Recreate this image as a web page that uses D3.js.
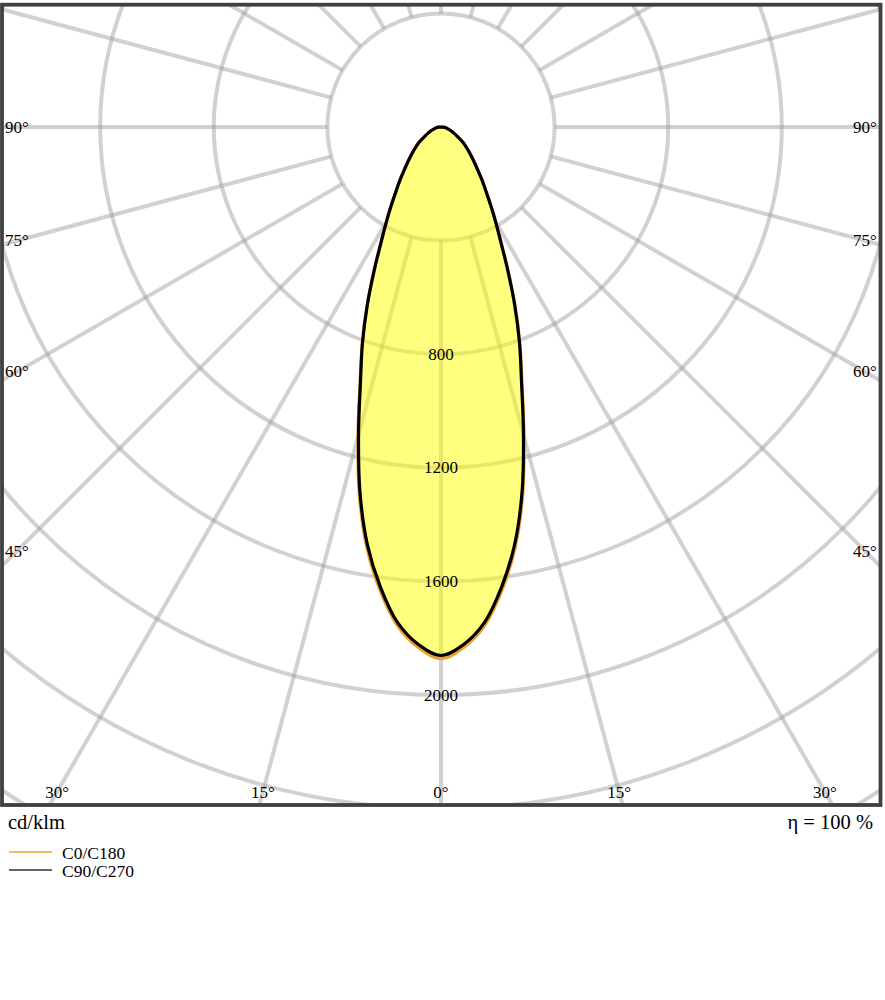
<!DOCTYPE html>
<html>
<head>
<meta charset="utf-8">
<script src="https://cdn.jsdelivr.net/npm/d3@7"></script>
<style>
  html, body { margin: 0; padding: 0; background: #fff; }
  svg { display: block; }
  text { font-family: "Liberation Serif", "Times New Roman", serif; fill: #000; }
</style>
</head>
<body>
<svg id="chart" width="885" height="1000"></svg>
<script>
// ---- data ----
const gammaAngles = [0, 2.5, 5, 7.5, 10, 12.5, 15, 17.5, 20, 22.5, 25, 27.5, 30, 32.5, 35, 37.5, 40, 42.5, 45, 47.5, 50, 55, 60, 65, 70, 75, 80, 85, 90];
const c0c180 = [1872, 1834, 1762, 1645, 1504, 1328, 1130, 949, 812, 681, 558, 457, 385, 325, 276, 239, 205, 179, 157, 138, 122, 95, 67, 49, 36, 25, 17, 8, 0];
const c90c270 = [1861, 1824, 1752, 1634, 1493, 1318, 1122, 943, 808, 678, 556, 456, 384, 324, 276, 239, 205, 179, 157, 138, 122, 95, 67, 49, 36, 25, 17, 8, 0];
const ringValues = [400, 800, 1200, 1600, 2000, 2400, 2800, 3200];
const ringLabels = [800, 1200, 1600, 2000];
const spokeAngles = d3.range(0, 360, 15);
const angleLabels = [0, 15, 30, 45, 60, 75, 90];
const legendNames = ["C0/C180", "C90/C270"];
const unitLabel = "cd/klm";
const efficiencyLabel = "η = 100 %";

// ---- layout ----
const frame = { x0: 2, y0: 4.7, x1: 880.5, y1: 805 };
const cx = 441, cy = 127;
const r = d3.scaleLinear().domain([0, 2000]).range([0, 568]);
const labelInset = { x0: 17, x1: 865, y1: 792 };

const svg = d3.select("#chart");
const defs = svg.append("defs");
defs.append("clipPath").attr("id", "clip")
  .append("rect")
  .attr("x", frame.x0).attr("y", frame.y0)
  .attr("width", frame.x1 - frame.x0).attr("height", frame.y1 - frame.y0);

const plot = svg.append("g").attr("clip-path", "url(#clip)");
const g = plot.append("g").attr("transform", `translate(${cx},${cy})`);

// grid rings
const gridColor = "#999";
g.selectAll("circle.ring").data(ringValues).enter().append("circle")
  .attr("class", "ring")
  .attr("r", d => r(d))
  .attr("fill", "none")
  .attr("stroke", gridColor)
  .attr("stroke-opacity", 0.45)
  .attr("stroke-width", 4);

// spokes (start at the first ring)
const rad = d => d * Math.PI / 180;
g.selectAll("line.spoke").data(spokeAngles).enter().append("line")
  .attr("class", "spoke")
  .attr("x1", d => r(ringValues[0]) * Math.sin(rad(d)))
  .attr("y1", d => r(ringValues[0]) * Math.cos(rad(d)))
  .attr("x2", d => r(4000) * Math.sin(rad(d)))
  .attr("y2", d => r(4000) * Math.cos(rad(d)))
  .attr("stroke", gridColor)
  .attr("stroke-opacity", 0.45)
  .attr("stroke-width", 4);

// closed curve: left side from the tip down to 0°, then right side back up to the tip
function curvePoints(vals) {
  const pts = [];
  for (let i = gammaAngles.length - 1; i >= 0; i--) {
    pts.push([Math.PI + rad(gammaAngles[i]), r(vals[i])]);
  }
  for (let i = 1; i < gammaAngles.length; i++) {
    pts.push([Math.PI - rad(gammaAngles[i]), r(vals[i])]);
  }
  return pts;
}
const radial = d3.lineRadial()
  .angle(d => d[0]).radius(d => d[1])
  .curve(d3.curveCatmullRom.alpha(0.5));

const pathC0 = radial(curvePoints(c0c180)) + "Z";
const pathC90 = radial(curvePoints(c90c270)) + "Z";

g.append("path").attr("d", pathC0)
  .attr("fill", "#ffff00").attr("fill-opacity", 0.5).attr("stroke", "none");
g.append("path").attr("d", pathC0)
  .attr("fill", "none").attr("stroke", "#f0a030").attr("stroke-width", 3.2)
  .attr("stroke-linejoin", "round");
g.append("path").attr("d", pathC90)
  .attr("fill", "none").attr("stroke", "#000").attr("stroke-width", 3.2)
  .attr("stroke-linejoin", "round");

// ring labels
g.selectAll("text.ringlabel").data(ringLabels).enter().append("text")
  .attr("class", "ringlabel")
  .attr("x", 0).attr("y", d => r(d))
  .attr("dy", "0.33em")
  .attr("text-anchor", "middle")
  .attr("font-size", 17)
  .text(d => d);

// angle labels, placed where each ray meets an inset rectangle
const angleLabelData = [];
angleLabels.forEach(a => {
  const sides = a === 0 ? [1] : [-1, 1];
  sides.forEach(s => {
    const dx = Math.sin(rad(a)), dy = Math.cos(rad(a));
    let t = Infinity;
    if (dy > 1e-9) t = Math.min(t, (labelInset.y1 - cy) / dy);
    if (dx > 1e-9) t = Math.min(t, (s > 0 ? (labelInset.x1 - cx) : (cx - labelInset.x0)) / dx);
    angleLabelData.push({ a, x: cx + s * t * dx, y: cy + t * dy });
  });
});
svg.selectAll("text.anglelabel").data(angleLabelData).enter().append("text")
  .attr("class", "anglelabel")
  .attr("x", d => d.x).attr("y", d => d.y)
  .attr("dy", "0.33em")
  .attr("text-anchor", "middle")
  .attr("font-size", 17)
  .text(d => d.a + "°");

// frame
svg.append("rect")
  .attr("x", frame.x0).attr("y", frame.y0)
  .attr("width", frame.x1 - frame.x0).attr("height", frame.y1 - frame.y0)
  .attr("fill", "none").attr("stroke", "#404040").attr("stroke-width", 3.8);

// footer texts
svg.append("text").attr("x", 8).attr("y", 829).attr("font-size", 20.5).text(unitLabel);
svg.append("text").attr("x", 873).attr("y", 829).attr("text-anchor", "end")
  .attr("font-size", 20.5).text(efficiencyLabel);

// legend
const legendColors = ["#f0a030", "#666"];
const legend = svg.append("g");
legendNames.forEach((name, i) => {
  const y = 852 + i * 18;
  legend.append("line").attr("x1", 9).attr("x2", 52).attr("y1", y).attr("y2", y)
    .attr("stroke", legendColors[i]).attr("stroke-width", i === 0 ? 1.3 : 1.8);
  legend.append("text").attr("x", 62).attr("y", y + 6.5).attr("font-size", 17.5).text(name);
});
</script>
</body>
</html>
